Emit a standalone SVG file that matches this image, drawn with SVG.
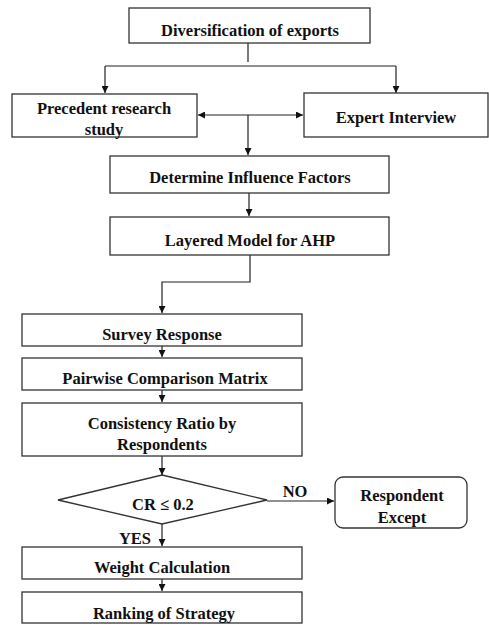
<svg xmlns="http://www.w3.org/2000/svg" width="489" height="625" viewBox="0 0 489 625">
<defs>
<marker id="ah" viewBox="0 0 10 10" refX="10" refY="5" markerWidth="7" markerHeight="7" orient="auto-start-reverse" markerUnits="userSpaceOnUse">
<path d="M0,0 L10,5 L0,10 z" fill="#111"/>
</marker>
<style>
.box{fill:#fff;stroke:#333;stroke-width:1.3}
.t{font-family:"Liberation Serif","Times New Roman",serif;font-weight:bold;font-size:16.5px;fill:#111;text-anchor:middle;dominant-baseline:central}
.c{fill:none;stroke:#222;stroke-width:1.2}
</style>
</defs>
<rect width="489" height="625" fill="#fff"/>
<g id="connectors">
<path class="c" d="M248,43 V62"/>
<path class="c" d="M105,66 H396"/>
<path class="c" d="M105,66 V93" marker-end="url(#ah)"/>
<path class="c" d="M396,66 V93" marker-end="url(#ah)"/>
<path class="c" d="M198,115 H303" marker-start="url(#ah)" marker-end="url(#ah)"/>
<path class="c" d="M248,115 V155" marker-end="url(#ah)"/>
<path class="c" d="M249,193 V216" marker-end="url(#ah)"/>
<path class="c" d="M250,255 V282 H162 V313" marker-end="url(#ah)"/>
<path class="c" d="M162,346 V357" marker-end="url(#ah)"/>
<path class="c" d="M162,390 V402" marker-end="url(#ah)"/>
<path class="c" d="M162,456 V475" marker-end="url(#ah)"/>
<path class="c" d="M267,501 H334" marker-end="url(#ah)"/>
<path class="c" d="M162,524 V546" marker-end="url(#ah)"/>
<path class="c" d="M162,579 V591" marker-end="url(#ah)"/>
<text class="t" x="295" y="491">NO</text>
<text class="t" x="135" y="538">YES</text>
</g>
<g id="n1"><rect class="box" x="129" y="8" width="241" height="35"/><text class="t" x="250" y="30">Diversification of exports</text></g>
<g id="n2"><rect class="box" x="12" y="94" width="185" height="43"/><text class="t" x="104" y="108">Precedent research</text><text class="t" x="104" y="129">study</text></g>
<g id="n3"><rect class="box" x="304" y="93" width="184" height="44"/><text class="t" x="396" y="117">Expert Interview</text></g>
<g id="n4"><rect class="box" x="110" y="156" width="279" height="37"/><text class="t" x="250" y="177">Determine Influence Factors</text></g>
<g id="n5"><rect class="box" x="110" y="217" width="279" height="38"/><text class="t" x="250" y="240">Layered Model for AHP</text></g>
<g id="n6"><rect class="box" x="22" y="314" width="280" height="32"/><text class="t" x="162" y="334">Survey Response</text></g>
<g id="n7"><rect class="box" x="22" y="358" width="280" height="32"/><text class="t" x="165" y="378">Pairwise Comparison Matrix</text></g>
<g id="n8"><rect class="box" x="22" y="403" width="280" height="53"/><text class="t" x="162" y="423">Consistency Ratio by</text><text class="t" x="162" y="444">Respondents</text></g>
<g id="n9"><polygon class="box" points="162,475 267,500 162,524 58,500"/><text class="t" x="163" y="504">CR ≤ 0.2</text></g>
<g id="n10"><rect class="box" x="335" y="477" width="132" height="51" rx="8"/><text class="t" x="402" y="495">Respondent</text><text class="t" x="402" y="517">Except</text></g>
<g id="n11"><rect class="box" x="22" y="547" width="280" height="32"/><text class="t" x="162" y="567">Weight Calculation</text></g>
<g id="n12"><rect class="box" x="22" y="592" width="280" height="31"/><text class="t" x="164" y="613">Ranking of Strategy</text></g>
</svg>
